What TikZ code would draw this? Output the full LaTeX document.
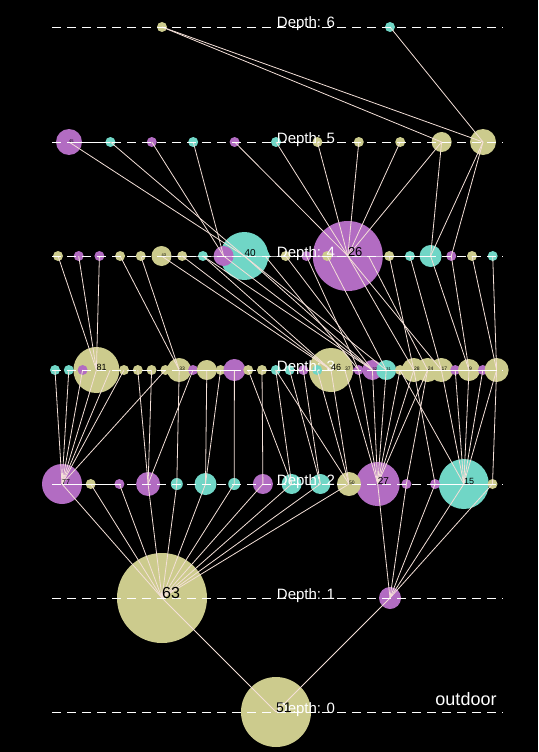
\documentclass[tikz,border=0pt]{standalone}
\usepackage{fontspec}
\setsansfont{Liberation Sans}
\definecolor{khaki}{RGB}{204,203,141}
\definecolor{orchid}{RGB}{178,108,194}
\definecolor{aqua}{RGB}{112,214,198}
\definecolor{edgepink}{RGB}{244,224,216}
\begin{document}
\begin{tikzpicture}[x=1pt, y=-1pt,
    ball/.style={circle, inner sep=0pt, minimum size={2*#1pt}},
    link/.style={edgepink, line width=0.8pt},
    level/.style={white, line width=0.8pt, dash pattern=on 9pt off 6pt},
    flat/.style={white, line width=0.9pt},
    depthtxt/.style={white, anchor=base, inner sep=0pt, font=\fontsize{15}{15}\sffamily},
    num/.style={black, anchor=base west, inner sep=0pt, font=\fontsize{#1}{#1}\sffamily}]
\fill[black] (0,0) rectangle (538,752);
\useasboundingbox (0,0) rectangle (538,752);

\node[ball=35, fill=khaki] (n0-0) at (276,712) {};
\node[ball=45, fill=khaki] (n1-0) at (162,598) {};
\node[ball=11, fill=orchid] (n1-1) at (390,598) {};
\foreach \i/\r/\c in {0/20/orchid, 11/22/orchid, 14/25/aqua, 1/5/khaki, 2/5/orchid, 3/12/orchid,
    4/6/aqua, 5/11/aqua, 6/6/aqua, 7/10/orchid, 8/10/aqua, 9/10/aqua, 10/12/khaki,
    12/5/orchid, 13/5/orchid, 15/5/khaki}
  \node[ball=\r, fill=\c] (n2-\i) at ({62+28.7*\i},484) {};
\foreach \i/\r/\c in {21/9/orchid, 20/22/khaki, 3/23/khaki, 0/5/aqua, 1/5/aqua, 2/5/orchid,
    4/5/khaki, 5/5/khaki, 6/5/khaki, 7/5/khaki, 8/5/khaki, 9/12/khaki, 10/5/orchid,
    11/10/khaki, 12/5/khaki, 13/11/orchid, 14/5/khaki, 15/5/khaki, 16/5/aqua, 17/5/aqua,
    18/5/orchid, 19/5/aqua, 22/5/orchid, 23/10/orchid, 24/10/aqua, 25/5/khaki, 26/12/khaki,
    27/12/khaki, 28/12/khaki, 29/5/orchid, 30/11/khaki, 31/5/orchid, 32/12/khaki}
  \node[ball=\r, fill=\c] (n3-\i) at ({55+13.8*\i},370) {};
\foreach \i/\r/\c in {14/35/orchid, 9/24/aqua, 0/5/khaki, 1/5/orchid, 2/5/orchid, 3/5/khaki,
    4/5/khaki, 5/10/khaki, 6/5/khaki, 7/5/aqua, 8/10/orchid, 10/5/aqua, 11/5/khaki,
    12/5/orchid, 13/5/khaki, 15/5/orchid, 16/5/khaki, 17/5/aqua, 18/11/aqua, 19/5/orchid,
    20/5/khaki, 21/5/aqua}
  \node[ball=\r, fill=\c] (n4-\i) at ({58+20.7*\i},256) {};
\foreach \i/\r/\c in {0/13/orchid, 1/5/aqua, 2/5/orchid, 3/5/aqua, 4/5/orchid, 5/5/aqua,
    6/5/khaki, 7/5/khaki, 8/5/khaki, 9/10/khaki, 10/13/khaki}
  \node[ball=\r, fill=\c] (n5-\i) at ({69+41.4*\i},142) {};
\node[ball=5, fill=khaki] (n6-0) at (162,27) {};
\node[ball=5, fill=aqua] (n6-1) at (390,27) {};

\foreach \p/\cs in {n0-0/{0,1}}
  \foreach \k in \cs \draw[link] (\p.center) -- (n1-\k.center);
\foreach \p/\cs in {n1-0/{0,1,2,3,4,5,6,7,8,9,10}, n1-1/{11,12,13,14,15}}
  \foreach \k in \cs \draw[link] (\p.center) -- (n2-\k.center);
\foreach \p/\cs in {n2-0/{0,1,2,3,4,5,8}, n2-3/{6,7,10}, n2-4/{9}, n2-5/{11,12}, n2-6/{13},
    n2-7/{15}, n2-8/{14,16}, n2-9/{17,18}, n2-10/{16,19,20}, n2-11/{21,22,23,24,25,26,27},
    n2-12/{27}, n2-13/{26}, n2-14/{25,28,29,30,31,32}, n2-15/{32}}
  \foreach \k in \cs \draw[link] (\p.center) -- (n3-\k.center);
\foreach \p/\cs in {n3-3/{0,1,2}, n3-9/{3,4}, n3-20/{5,6,7}, n3-23/{7,8,9,11}, n3-24/{9,13},
    n3-22/{10,12}, n3-26/{14,16}, n3-27/{15}, n3-28/{14,17}, n3-30/{18,19}, n3-32/{20,21}}
  \foreach \k in \cs \draw[link] (\p.center) -- (n4-\k.center);
\foreach \p/\cs in {n4-9/{0,1}, n4-8/{2,3}, n4-14/{4,5,6,7,8,9}, n4-18/{9,10}, n4-19/{10}}
  \foreach \k in \cs \draw[link] (\p.center) -- (n5-\k.center);
\foreach \p/\cs in {n5-9/{0}, n5-10/{0,1}}
  \foreach \k in \cs \draw[link] (\p.center) -- (n6-\k.center);

\foreach \d/\y in {0/712, 1/598, 2/484, 3/370, 4/256, 5/142, 6/27} {
  \draw[level] (52,\y) -- (503,\y);
  \node[depthtxt] (dt\d) at (306,{\y+1}) {Depth: \d};
}
\draw[flat] (n5-0.center) -- (n5-1.center);
\draw[flat] (n4-5.center) -- (n4-14.center) -- (n4-18.center);
\draw[flat] (n3-9.center) -- (n3-13.center);
\draw[flat] (n3-23.center) -- (n3-32.center);
\draw[flat] (n2-0.center) -- (n2-2.center);
\draw[flat] (n2-13.center) -- (n2-15.center);

\foreach \n/\t/\s in {n0-0/51/14, n1-0/63/16, n2-0/77/7, n2-10/50/5, n2-11/27/10, n2-14/15/9,
    n3-3/81/9, n3-9/33/5, n3-20/46/9, n3-21/37/5, n3-23/32/4, n3-24/31/4, n3-26/28/5,
    n3-27/24/5, n3-28/17/5, n3-30/9/5, n4-5/43/4, n4-9/40/10, n4-14/26/13, n5-0/45/4}
  \node[num=\s] (l-\n) at (\n.center) {\t};
\node[white, anchor=base, font=\fontsize{18}{18}\sffamily] (outdoor) at (466,705) {outdoor};
\end{tikzpicture}
\end{document}
